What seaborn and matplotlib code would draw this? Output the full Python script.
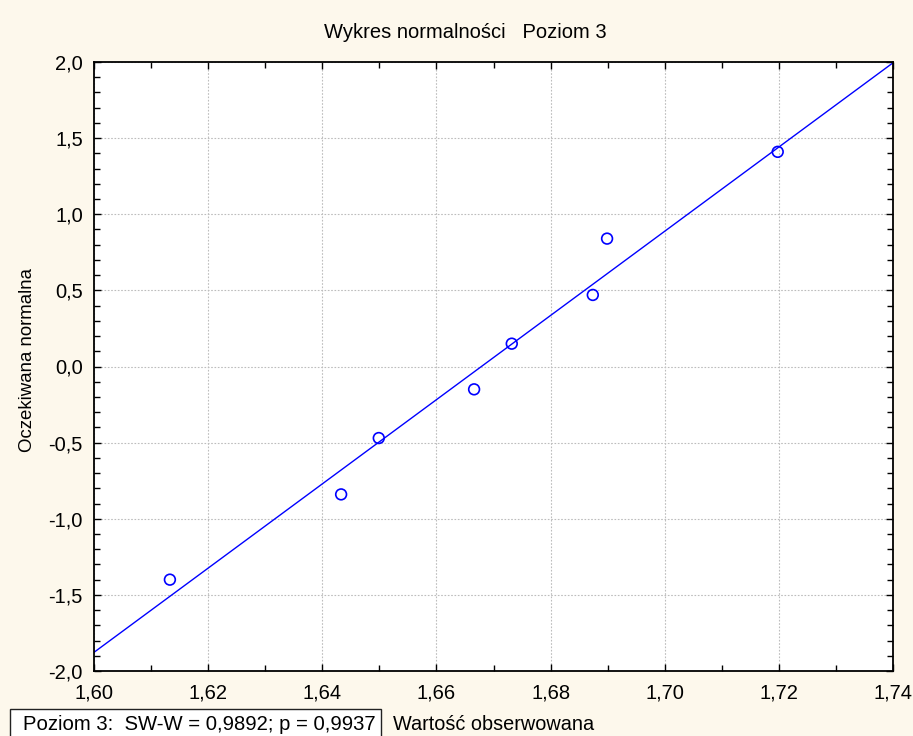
import numpy as np
import pandas as pd
import matplotlib
matplotlib.use("Agg")
import matplotlib.pyplot as plt
from matplotlib.ticker import FuncFormatter, MultipleLocator
from matplotlib.patches import Rectangle
import seaborn as sns

# ---- data ----
observed = [1.6133, 1.6433, 1.6499, 1.6666, 1.6732, 1.6874, 1.6899, 1.7198]
expected = [-1.40, -0.84, -0.47, -0.15, 0.15, 0.47, 0.84, 1.41]
x_ticks = [1.60, 1.62, 1.64, 1.66, 1.68, 1.70, 1.72, 1.74]
y_ticks = [-2.0, -1.5, -1.0, -0.5, 0.0, 0.5, 1.0, 1.5, 2.0]
title = "Wykres normalności   Poziom 3"
x_label = "Wartość obserwowana"
y_label = "Oczekiwana normalna"
stat_text = "Poziom 3:  SW-W = 0,9892; p = 0,9937"

df = pd.DataFrame({"obs": observed, "exp": expected})

sns.set_theme(style="white")
plt.rcParams["font.family"] = ["Liberation Sans", "DejaVu Sans"]

bg = "#FDF8EC"
blue = "#0000FF"

fig = plt.figure(figsize=(9.13, 7.36), dpi=100, facecolor=bg)
ax = fig.add_axes([94 / 913, 1 - 671 / 736, (893 - 94) / 913, (671 - 62) / 736])
ax.set_facecolor("white")

ax.set_xlim(x_ticks[0], x_ticks[-1])
ax.set_ylim(y_ticks[0], y_ticks[-1])

sns.regplot(data=df, x="obs", y="exp", ax=ax, scatter=False, ci=None,
            truncate=False, line_kws=dict(color=blue, lw=1.0))
sns.scatterplot(data=df, x="obs", y="exp", ax=ax, s=60, marker="o",
                facecolors="none", edgecolor=blue, linewidth=1.2, zorder=3)

ax.set_xlim(x_ticks[0], x_ticks[-1])
ax.set_ylim(y_ticks[0], y_ticks[-1])
ax.set_xticks(x_ticks)
ax.set_yticks(y_ticks)
ax.xaxis.set_minor_locator(MultipleLocator(0.01))
ax.yaxis.set_minor_locator(MultipleLocator(0.1))
ax.xaxis.set_major_formatter(FuncFormatter(lambda v, p: f"{v:.2f}".replace(".", ",")))
ax.yaxis.set_major_formatter(FuncFormatter(lambda v, p: f"{v:.1f}".replace(".", ",")))

ax.tick_params(which="both", direction="in", top=True, right=True,
               bottom=True, left=True, color="black", width=1)
ax.tick_params(which="major", length=5, labelsize=14.5, labelcolor="black")
ax.tick_params(which="minor", length=4)
ax.tick_params(axis="x", which="major", pad=9)
ax.tick_params(axis="y", which="major", pad=8)

ax.grid(True, which="major", color="#BDBDBD", linestyle=(0, (1.5, 1.5)), linewidth=0.8)
for s in ax.spines.values():
    s.set_color("black")
    s.set_linewidth(1.3)

ax.set_xlabel("")
ax.set_ylabel(y_label, fontsize=13.4, color="black")
ax.yaxis.set_label_coords(-0.073, 0.51)

fig.text(465 / 913, 1 - 33 / 736, title, ha="center", va="center", fontsize=14.5, color="black")

fig.patches.append(Rectangle((10 / 913, -0.01), (381 - 10) / 913, 0.01 + (736 - 709) / 736,
                             transform=fig.transFigure, facecolor="white",
                             edgecolor="#222222", linewidth=1, figure=fig))
fig.text(23 / 913, 1 - 724 / 736, stat_text, ha="left", va="center", fontsize=14.6, color="black")
fig.text(393 / 913, 1 - 724 / 736, x_label, ha="left", va="center", fontsize=14.3, color="black")

fig.savefig("out.png", dpi=100, facecolor=bg)
